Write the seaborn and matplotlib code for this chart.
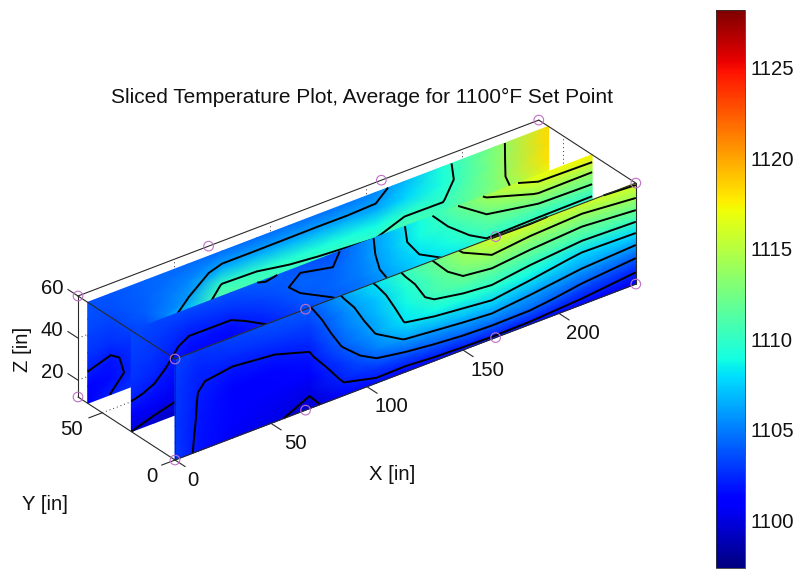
import numpy as np
import pandas as pd
import matplotlib
matplotlib.use("Agg")
import matplotlib.pyplot as plt
import seaborn as sns

x_stations = [0, 12, 30, 52, 70, 88, 105, 120, 135, 150, 165, 185, 212, 240]
z_stations = [12, 20, 28, 36, 44, 52, 60]

# one row per x station, bottom to top
temp_front = [
    [1103.0, 1103.0, 1103.0, 1103.0, 1103.0, 1103.1, 1103.2],
    [1101.7, 1101.8, 1101.9, 1101.95, 1102.05, 1102.4, 1102.8],
    [1100.5, 1100.8, 1101.0, 1101.3, 1101.8, 1102.6, 1103.3],
    [1100.2, 1100.4, 1100.8, 1101.3, 1102.0, 1102.9, 1103.7],
    [1099.4, 1100.2, 1100.9, 1101.7, 1102.5, 1103.2, 1103.9],
    [1101.3, 1102.2, 1103.0, 1104.2, 1104.9, 1105.4, 1106.2],
    [1101.5, 1103.1, 1105.0, 1106.1, 1106.7, 1107.3, 1108.2],
    [1101.2, 1103.5, 1106.1, 1108.1, 1108.7, 1109.4, 1110.3],
    [1101.4, 1104.0, 1106.5, 1108.8, 1110.6, 1111.2, 1112.1],
    [1101.5, 1104.4, 1106.9, 1109.2, 1111.4, 1112.9, 1114.3],
    [1101.6, 1104.6, 1107.3, 1109.6, 1111.5, 1114.0, 1116.0],
    [1101.5, 1104.5, 1106.5, 1108.9, 1111.0, 1113.3, 1116.1],
    [1101.2, 1103.4, 1105.7, 1107.7, 1110.6, 1112.8, 1115.8],
    [1100.4, 1102.7, 1105.1, 1107.9, 1110.9, 1113.7, 1116.3],
]
temp_middle = [
    [1100.0, 1101.2, 1102.2, 1102.7, 1103.0, 1103.2, 1103.4],
    [1099.5, 1100.6, 1101.8, 1102.4, 1102.7, 1103.0, 1103.3],
    [1099.0, 1100.0, 1100.7, 1101.2, 1101.7, 1102.5, 1103.4],
    [1099.5, 1100.0, 1100.5, 1101.0, 1101.6, 1102.7, 1103.7],
    [1100.0, 1100.5, 1101.0, 1101.7, 1102.6, 1103.4, 1104.1],
    [1100.5, 1101.2, 1102.2, 1103.1, 1103.8, 1104.3, 1103.8],
    [1100.8, 1101.6, 1102.8, 1103.8, 1104.3, 1104.1, 1103.6],
    [1101.0, 1102.0, 1103.4, 1104.4, 1105.0, 1105.2, 1105.3],
    [1101.5, 1103.0, 1104.9, 1106.0, 1106.6, 1106.9, 1107.0],
    [1102.0, 1103.8, 1106.0, 1107.4, 1108.0, 1108.8, 1109.0],
    [1102.0, 1104.3, 1106.6, 1107.9, 1109.0, 1110.0, 1111.2],
    [1102.0, 1105.0, 1107.6, 1109.4, 1110.8, 1112.2, 1114.3],
    [1102.0, 1104.6, 1107.0, 1109.0, 1111.0, 1114.2, 1117.1],
    [1101.0, 1103.5, 1106.0, 1108.5, 1111.3, 1114.1, 1117.5],
]
temp_back = [
    [1100.5, 1101.3, 1102.1, 1102.8, 1103.2, 1103.5, 1103.7],
    [1102.05, 1101.5, 1101.7, 1102.6, 1103.1, 1103.5, 1103.8],
    [1103.0, 1102.8, 1102.9, 1103.2, 1104.0, 1104.2, 1104.3],
    [1103.0, 1104.0, 1105.3, 1107.5, 1105.9, 1105.2, 1104.4],
    [1104.0, 1106.0, 1109.0, 1111.8, 1110.2, 1106.5, 1104.5],
    [1103.0, 1105.0, 1108.0, 1111.0, 1110.0, 1106.5, 1104.5],
    [1103.0, 1105.5, 1108.5, 1110.8, 1109.6, 1106.5, 1104.6],
    [1103.0, 1105.5, 1108.5, 1110.6, 1109.4, 1106.5, 1104.7],
    [1103.0, 1105.5, 1108.5, 1110.5, 1109.2, 1106.4, 1104.9],
    [1103.0, 1105.5, 1108.5, 1110.4, 1108.9, 1106.3, 1105.4],
    [1103.5, 1106.0, 1109.0, 1111.0, 1109.9, 1107.7, 1106.8],
    [1104.0, 1106.5, 1109.0, 1110.8, 1109.9, 1109.2, 1109.4],
    [1105.0, 1108.0, 1111.0, 1112.8, 1113.0, 1113.0, 1113.0],
    [1106.0, 1110.0, 1114.0, 1116.5, 1118.0, 1118.2, 1118.3],
]

levels_front = [1100, 1102, 1104, 1106, 1108, 1110, 1112, 1114, 1116]
levels_middle = [1100, 1102, 1104, 1106, 1108, 1110, 1112, 1114, 1116]
levels_back = [1102, 1106, 1110, 1114]

slice_y = [60, 30, 0]

# the little purple rings
ring_x = [0, 68, 167, 240, 0, 68, 167, 240, 0, 68, 158, 240, 0]
ring_y = [0, 0, 0, 0, 0, 0, 0, 0, 66.67, 66.67, 66.67, 66.67, 66.67]
ring_z = [12, 12, 12, 12, 60, 60, 60, 60, 60, 60, 60, 60, 12]

x_ticks = [0, 50, 100, 150, 200]
y_ticks = [0, 50]
z_ticks = [20, 40, 60]
cbar_ticks = [1100, 1105, 1110, 1115, 1120, 1125]

X_MAX, Y_MAX, Z_MIN, Z_MAX = 240, 66.67, 12, 60
T_MIN, T_MAX = 1097.35, 1128.2


def project(x, y, z):
    # fixed oblique view, gives figure pixels
    x, y, z = np.asarray(x, float), np.asarray(y, float), np.asarray(z, float)
    px = 175 + 1.92 * x - 1.455 * y
    py = 460 - 0.733 * x - 0.945 * y - 2.104 * (z - Z_MIN)
    return px, py


def line3d(ax, a, b, **kw):
    px, py = project(*zip(a, b))
    ax.plot(px, py, **kw)


sns.set_theme(style="white", font="Liberation Sans")
cmap = matplotlib.colormaps["jet"]
norm = plt.Normalize(T_MIN, T_MAX)

fig = plt.figure(figsize=(8.01, 5.73), dpi=100)
ax = fig.add_axes([0, 0, 1, 1])
ax.set_xlim(0, 801)
ax.set_ylim(573, 0)
ax.axis("off")

# grid lines behind the slices
grid = dict(color="#333333", lw=0.7, ls=(0, (1, 3)), zorder=1)
for xt in x_ticks[1:]:
    line3d(ax, (xt, Y_MAX, Z_MIN), (xt, Y_MAX, Z_MAX), **grid)
for zt in z_ticks[:2]:
    line3d(ax, (0, Y_MAX, zt), (X_MAX, Y_MAX, zt), **grid)
line3d(ax, (0, 50, Z_MIN), (X_MAX, 50, Z_MIN), **grid)
line3d(ax, (X_MAX, 50, Z_MIN), (X_MAX, 50, Z_MAX), **grid)

# slices back to front, later ones hide earlier ones
XX, ZZ = np.meshgrid(x_stations, z_stations)
temps = [temp_back, temp_middle, temp_front]
levels = [levels_back, levels_middle, levels_front]
for i, (yval, temp, lev) in enumerate(zip(slice_y, temps, levels)):
    T = np.array(temp).T
    px, py = project(XX, np.full(XX.shape, yval), ZZ)
    ax.pcolormesh(px, py, T, shading="gouraud", cmap=cmap, norm=norm, zorder=2 + 2 * i)
    ax.contour(px, py, T, levels=lev, colors="black", linewidths=1.4, zorder=3 + 2 * i)

# box
box = dict(color="#2a2a2a", lw=0.8, zorder=10)
top = [(0, 0), (X_MAX, 0), (X_MAX, Y_MAX), (0, Y_MAX), (0, 0)]
for a, b in zip(top[:-1], top[1:]):
    line3d(ax, (*a, Z_MAX), (*b, Z_MAX), **box)
line3d(ax, (0, 0, Z_MIN), (X_MAX, 0, Z_MIN), **box)
line3d(ax, (0, 0, Z_MIN), (0, Y_MAX, Z_MIN), **box)
for a in [(0, 0), (X_MAX, 0), (0, Y_MAX)]:
    line3d(ax, (*a, Z_MIN), (*a, Z_MAX), **box)

# ticks and tick labels
tick_fs = 14.6
tick = dict(color="#2a2a2a", lw=0.8, zorder=10)
for xt in x_ticks:
    line3d(ax, (xt, 0, Z_MIN), (xt, -7, Z_MIN), **tick)
    px, py = project(xt, 0, Z_MIN)
    ax.text(px + 24 - (6 if xt == 0 else 0), py + 20, str(xt), fontsize=tick_fs, ha="center", va="center", color="#111111")
for yt in y_ticks:
    line3d(ax, (0, yt, Z_MIN), (-7, yt, Z_MIN), **tick)
    px, py = project(0, yt, Z_MIN)
    ax.text(px - 23 - (8 if yt else 0), py + 17, str(yt), fontsize=tick_fs, ha="center", va="center", color="#111111")
for zt in z_ticks:
    line3d(ax, (0, Y_MAX, zt), (0, Y_MAX + 7, zt), **tick)
    px, py = project(0, Y_MAX, zt)
    ax.text(px - 26, py - 8, str(zt), fontsize=tick_fs, ha="center", va="center", color="#111111")

ax.text(392, 475, "X [in]", fontsize=tick_fs, ha="center", va="center", color="#111111")
ax.text(45, 504, "Y [in]", fontsize=tick_fs, ha="center", va="center", color="#111111")
ax.text(23, 349, "Z [in]", fontsize=tick_fs, rotation=90, ha="center", va="center", color="#111111")
ax.text(362, 97, "Sliced Temperature Plot, Average for 1100\u00b0F Set Point", fontsize=15,
        ha="center", va="center", color="#111111")

# rings
rpx, rpy = project(ring_x, ring_y, ring_z)
rings = pd.DataFrame({"px": rpx, "py": rpy})
sns.scatterplot(data=rings, x="px", y="py", ax=ax, marker="o", s=48, facecolor="none",
                edgecolor="#c070c8", linewidth=0.8, zorder=12, legend=False)
ax.set_xlim(0, 801)
ax.set_ylim(573, 0)
ax.axis("off")

# colorbar
cax = fig.add_axes([716 / 801, 1 - 568 / 573, 29 / 801, 558 / 573])
sm = plt.cm.ScalarMappable(norm=norm, cmap=cmap)
cb = fig.colorbar(sm, cax=cax, ticks=cbar_ticks)
cb.ax.tick_params(labelsize=tick_fs, length=5, width=0.6, direction="in", right=True, left=True,
                  pad=4, labelcolor="#111111")
cb.outline.set_linewidth(0.6)
cb.outline.set_edgecolor("#333333")

fig.savefig("out.png", dpi=100)
